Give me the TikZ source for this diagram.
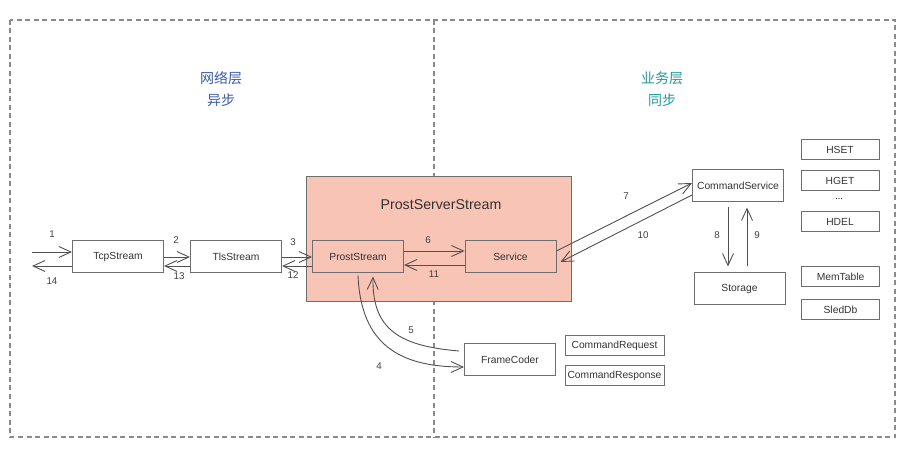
\documentclass[tikz,border=0pt]{standalone}
\usepackage{fontspec}
\setmainfont{Liberation Sans}
\newfontfamily\cjk{Noto Sans CJK SC}
\usetikzlibrary{arrows.meta,positioning}
\definecolor{linegray}{HTML}{505050}
\definecolor{boxgray}{HTML}{6E6E6E}
\definecolor{framegray}{HTML}{8A8A8A}
\definecolor{salmon}{HTML}{F8C4B5}
\definecolor{netblue}{HTML}{3A5BA8}
\definecolor{bizteal}{HTML}{1F9A9A}
\begin{document}
\begin{tikzpicture}
[x=1pt,y=-1pt,
frame/.style={draw=framegray,line width=1.1pt,dash pattern=on 5pt off 3.5pt},
box/.style={draw=boxgray,line width=1pt,inner sep=0pt,minimum width=91pt,minimum height=32pt,font=\fontsize{10.3}{12}\selectfont,text=black!80},
small box/.style={box,minimum width=78pt,minimum height=20pt},
flow/.style={draw=linegray,line width=0.9pt,-{Straight Barb[length=12pt,width=11pt,line width=0.9pt]}},
num/.style={font=\fontsize{9.8}{11}\selectfont,text=black!75,inner sep=1pt},
layer text/.style={font=\cjk\fontsize{14}{22}\selectfont,align=center}]
\useasboundingbox (0,0) rectangle (916,454);
% two layers
\draw[frame] (10,20) rectangle (895,437);
\draw[frame] (434,20) -- (434,437);
\node[layer text,text=netblue] (net) at (221,89) {网络层\\异步};
\node[layer text,text=bizteal] (biz) at (662,89) {业务层\\同步};
% network side
\node[box] (tcp) at (118,257) {TcpStream};
\node[box] (tls) at (236,257) {TlsStream};
\node[draw=boxgray,line width=1pt,fill=salmon,minimum width=265pt,minimum height=125pt] (server) at (438.5,239.5) {};
\node[font=\fontsize{14.2}{17}\selectfont,text=black!80] (title) at (441,205) {ProstServerStream};
\node[box] (ps) at (358,257) {ProstStream};
\node[box] (svc) at (510.5,257) {Service};
\node[box] (fc) at (510,360) {FrameCoder};
\node[small box,minimum width=99pt] (req) at (614.5,346) {CommandRequest};
\node[small box,minimum width=99pt] (resp) at (614.5,375.5) {CommandResponse};
% business side
\node[box] (cs) at (738,186) {CommandService};
\node[box] (st) at (739.5,289) {Storage};
\node[small box] (hset) at (840,150) {HSET};
\node[small box] (hget) at (840,180.5) {HGET};
\node[font=\fontsize{9}{10}\selectfont] (dots) at (839,199) {...};
\node[small box] (hdel) at (840,221.5) {HDEL};
\node[small box] (mem) at (840.5,277) {MemTable};
\node[small box] (sled) at (840.5,309.5) {SledDb};
\coordinate (in) at (32,252);
\coordinate (out) at (32,266);
% connectors
\path
(in) edge[flow] ([yshift=5pt]tcp.west)
([yshift=-9pt]tcp.west) edge[flow] (out)
(tcp.east) edge[flow] (tls.west)
([yshift=-9pt]tls.west) edge[flow] ([yshift=-9pt]tcp.east)
(tls.east) edge[flow] (ps.west)
([yshift=-9pt]ps.west) edge[flow] ([yshift=-9pt]tls.east)
([yshift=6pt]ps.east) edge[flow] ([yshift=6pt]svc.west)
([yshift=-8pt]svc.west) edge[flow] ([yshift=-8pt]ps.east)
([yshift=6pt]svc.east) edge[flow] ([yshift=3pt]cs.west)
([yshift=-9pt]cs.west) edge[flow] ([xshift=4pt,yshift=-5pt]svc.east)
([xshift=-10pt,yshift=-5pt]cs.south) edge[flow] ([xshift=-11.5pt,yshift=6pt]st.north)
([xshift=7.5pt,yshift=6pt]st.north) edge[flow] ([xshift=9pt,yshift=-5pt]cs.south);
\draw[flow] ([yshift=-2pt]ps.south) .. controls (361,345) and (400,367) .. ([yshift=-7pt]fc.west);
\draw[flow] ([xshift=-5pt,yshift=9pt]fc.west) .. controls (400,346) and (372,330) .. ([xshift=15pt,yshift=-3pt]ps.south);
% step numbers
\foreach \n/\x/\y in {1/52/234,2/176/240,3/293/242,4/379/366,5/411/330,6/428/240,7/626/196,
8/717/235,9/757/235,10/643/235,11/434/274,12/293/275,13/179/276,14/52/281}
\node[num] (l\n) at (\x,\y) {\n};
\end{tikzpicture}
\end{document}
